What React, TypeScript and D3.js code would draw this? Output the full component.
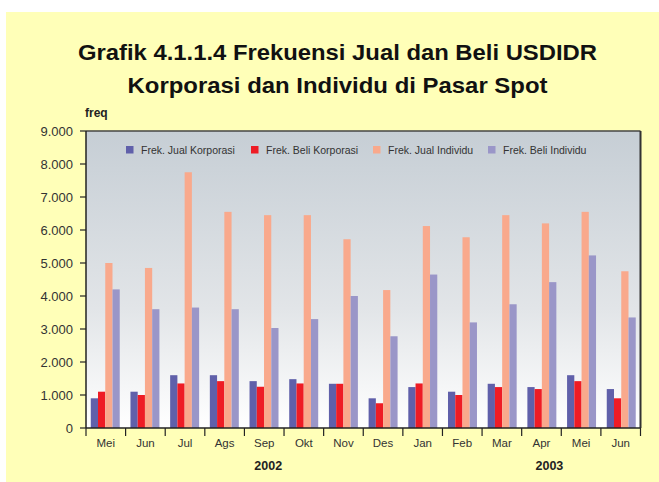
import React from "react";
import * as d3 from "d3";

const months = ["Mei", "Jun", "Jul", "Ags", "Sep", "Okt", "Nov", "Des", "Jan", "Feb", "Mar", "Apr", "Mei", "Jun"];
const monthKeys = months.map((m, i) => `${m}-${i}`);
const jualKorporasi = [900, 1100, 1600, 1600, 1420, 1480, 1340, 900, 1240, 1100, 1340, 1240, 1600, 1180];
const beliKorporasi = [1100, 1000, 1350, 1420, 1250, 1350, 1340, 750, 1350, 1000, 1240, 1180, 1420, 900];
const jualIndividu = [5000, 4850, 7750, 6550, 6450, 6450, 5720, 4180, 6120, 5780, 6450, 6200, 6550, 4750];
const beliIndividu = [4200, 3600, 3650, 3600, 3030, 3300, 4000, 2780, 4650, 3200, 3750, 4420, 5230, 3350];
const seriesNames = ["Frek. Jual Korporasi", "Frek. Beli Korporasi", "Frek. Jual Individu", "Frek. Beli Individu"];
const seriesColors = ["#6060AA", "#EE1C25", "#F9A98C", "#9A96C8"];
const yTicks = [0, 1000, 2000, 3000, 4000, 5000, 6000, 7000, 8000, 9000];
const years = [
  { label: "2002", at: 4.6 },
  { label: "2003", at: 11.7 },
];

export default function App() {
  const W = 659, H = 482;
  const left = 86, right = 640.5, top = 131, bottom = 428;
  const series = [jualKorporasi, beliKorporasi, jualIndividu, beliIndividu];
  const x = d3.scaleBand<string>().domain(monthKeys).range([left, right]).paddingInner(0.27).paddingOuter(0.12);
  const xc = d3.scaleBand<string>().domain(monthKeys).range([left, right]).padding(0);
  const xPos = d3.scaleLinear().domain([0, months.length]).range([left, right]);
  const inner = d3.scaleBand<number>().domain([0, 1, 2, 3]).range([0, x.bandwidth()]);
  const y = d3.scaleLinear().domain([0, 9000]).range([bottom, top]);
  const fmt = (v: number) => d3.format(",")(v).replace(/,/g, ".");
  const font = "'Liberation Sans', Arial, sans-serif";

  return (
    <svg width={W} height={H} style={{ position: "absolute", left: 0, top: 0 }} fontFamily={font}>
      <defs>
        <linearGradient id="plotbg" x1="0" y1="0" x2="0" y2="1">
          <stop offset="0" stopColor="#C6CED5" />
          <stop offset="0.6" stopColor="#E2E5E8" />
          <stop offset="1" stopColor="#FFFFFF" />
        </linearGradient>
      </defs>
      <rect x={0} y={0} width={W} height={H} fill="#FFFFFF" />
      <rect x={6} y={12} width={W - 6} height={H - 12} fill="#FFFFB8" />
      <text x={337.5} y={60} textAnchor="middle" fontSize={22} fontWeight="bold" fill="#111"
        textLength={519} lengthAdjust="spacingAndGlyphs">
        Grafik 4.1.1.4 Frekuensi Jual dan Beli USDIDR
      </text>
      <text x={337.5} y={93} textAnchor="middle" fontSize={22} fontWeight="bold" fill="#111"
        textLength={420} lengthAdjust="spacingAndGlyphs">
        Korporasi dan Individu di Pasar Spot
      </text>
      <text x={85} y={117} fontSize={12} fontWeight="bold" fill="#222">freq</text>

      <rect x={left} y={top} width={right - left} height={bottom - top} fill="url(#plotbg)" />
      <line x1={left} y1={top} x2={right} y2={top} stroke="#444" strokeWidth={1.5} />
      <line x1={right} y1={top} x2={right} y2={bottom} stroke="#333" strokeWidth={2} />

      {series.map((vals, si) =>
        vals.map((v, i) => (
          <rect
            key={`${si}-${i}`}
            x={(x(monthKeys[i]) as number) + (inner(si) as number)}
            y={y(v)}
            width={inner.bandwidth()}
            height={y(0) - y(v)}
            fill={seriesColors[si]}
          />
        ))
      )}

      {seriesNames.map((name, i) => {
        const lx = [126, 251, 373, 488][i];
        return (
          <g key={name}>
            <rect x={lx} y={146} width={7.5} height={7.5} fill={seriesColors[i]} />
            <text x={lx + 15} y={154} fontSize={10.5} fill="#333">{name}</text>
          </g>
        );
      })}

      <line x1={left} y1={top} x2={left} y2={bottom} stroke="#222" strokeWidth={1.5} />
      {yTicks.map((t) => (
        <g key={t}>
          <line x1={left - 6} x2={left} y1={y(t)} y2={y(t)} stroke="#222" strokeWidth={1.2} />
          <text x={73} y={y(t) + 5} textAnchor="end" fontSize={13} fill="#333">{fmt(t)}</text>
        </g>
      ))}

      <line x1={left} y1={bottom} x2={right} y2={bottom} stroke="#222" strokeWidth={1.5} />
      {monthKeys.map((k, i) => (
        <g key={k}>
          <line x1={xc(k) as number} x2={xc(k) as number} y1={bottom} y2={bottom + 8} stroke="#222" strokeWidth={1.2} />
          <text x={(xc(k) as number) + xc.bandwidth() / 2} y={447} textAnchor="middle" fontSize={11.5} fill="#333">
            {months[i]}
          </text>
        </g>
      ))}
      <line x1={right} x2={right} y1={bottom} y2={bottom + 8} stroke="#222" strokeWidth={1.2} />
      {years.map((yr) => (
        <text key={yr.label} x={xPos(yr.at)} y={470} textAnchor="middle" fontSize={12.5} fontWeight="bold" fill="#222">
          {yr.label}
        </text>
      ))}
    </svg>
  );
}
